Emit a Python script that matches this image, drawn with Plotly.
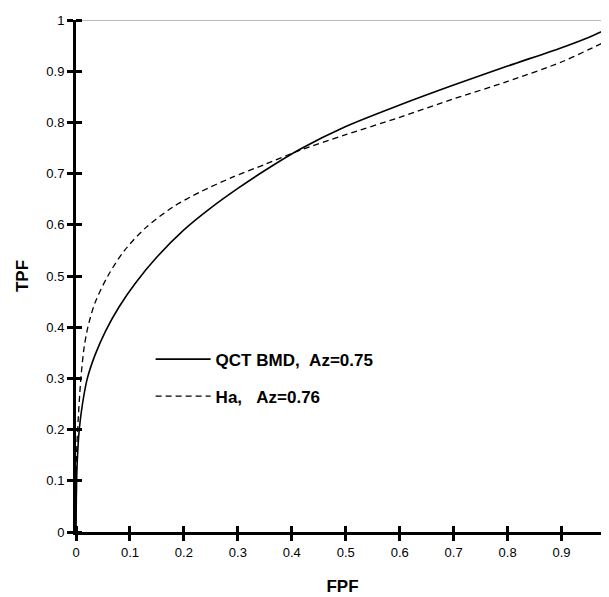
import plotly.graph_objects as go

# ROC curve data
qct_fpf = [0, 0.0005, 0.002, 0.006, 0.012, 0.021, 0.035, 0.055, 0.08, 0.11, 0.15, 0.2,
           0.25, 0.3, 0.35, 0.416, 0.5, 0.6, 0.7, 0.8, 0.9, 0.95, 0.99]
qct_tpf = [0, 0.06, 0.13, 0.2, 0.25, 0.3, 0.345, 0.393, 0.44, 0.486, 0.537, 0.59,
           0.633, 0.671, 0.706, 0.748, 0.792, 0.834, 0.873, 0.91, 0.946, 0.966, 0.985]

ha_fpf = [0, 0.0005, 0.001, 0.003, 0.009, 0.015, 0.022, 0.035, 0.059, 0.09, 0.13, 0.18, 0.23,
          0.288, 0.35, 0.416, 0.5, 0.6, 0.7, 0.8, 0.9, 0.95, 0.99]
ha_tpf = [0, 0.1, 0.15, 0.2, 0.3, 0.36, 0.4, 0.447, 0.5, 0.55, 0.595, 0.635, 0.664,
          0.692, 0.718, 0.746, 0.776, 0.81, 0.846, 0.88, 0.918, 0.942, 0.962]

qct_name = "QCT BMD,\u00a0\u00a0Az=0.75"
ha_name = "Ha,\u00a0\u00a0\u00a0Az=0.76"

x_ticks = [0, 0.1, 0.2, 0.3, 0.4, 0.5, 0.6, 0.7, 0.8, 0.9]
x_labels = ["0", "0.1", "0.2", "0.3", "0.4", "0.5", "0.6", "0.7", "0.8", "0.9"]
y_ticks = [0, 0.1, 0.2, 0.3, 0.4, 0.5, 0.6, 0.7, 0.8, 0.9, 1.0]
y_labels = ["0", "0.1", "0.2", "0.3", "0.4", "0.5", "0.6", "0.7", "0.8", "0.9", "1"]

X_RANGE = [0, 0.988]
Y_RANGE = [0, 1]

tick_font = dict(family="Liberation Sans, Arial, sans-serif", size=13, color="black")
bold_font = "Liberation Sans Narrow, Arial Narrow, Liberation Sans, Arial, sans-serif"

fig = go.Figure()
fig.add_trace(go.Scatter(x=qct_fpf, y=qct_tpf, mode="lines", name=qct_name,
                         line=dict(color="black", width=1.6, shape="spline", smoothing=0.8),
                         legendgroup="a"))
fig.add_trace(go.Scatter(x=ha_fpf, y=ha_tpf, mode="lines", name=ha_name,
                         line=dict(color="black", width=1.3, dash="6px,4px", shape="spline", smoothing=0.8),
                         legendgroup="b"))

inner_ticks_x = dict(tickmode="array", tickvals=x_ticks, ticks="inside", ticklen=6,
                     tickwidth=2.5, tickcolor="black")
inner_ticks_y = dict(tickmode="array", tickvals=y_ticks, ticks="inside", ticklen=6,
                     tickwidth=2.5, tickcolor="black")

axis_common = dict(showline=True, linewidth=3, linecolor="black", ticks="outside",
                   ticklen=6, tickwidth=2.5, tickcolor="black", showgrid=False,
                   zeroline=False, tickfont=tick_font, fixedrange=True, automargin=False)

# the page body has an 8px margin, so the figure is sized to fit the window
fig.update_layout(
    width=601, height=589,
    margin=dict(l=67.5, r=0, t=12, b=65),
    paper_bgcolor="white", plot_bgcolor="white",
    showlegend=True,
    legend=dict(x=0.14, y=0.372, xanchor="left", yanchor="top",
                bgcolor="rgba(0,0,0,0)", traceorder="grouped", tracegroupgap=12,
                itemwidth=55,
                font=dict(family=bold_font, size=17, color="black", weight="bold")),
    xaxis=dict(range=X_RANGE, tickvals=x_ticks, ticktext=x_labels, minor=inner_ticks_x,
               title=dict(text="<b>FPF</b>", font=dict(family=bold_font, size=17, color="black"), standoff=22),
               **axis_common),
    yaxis=dict(range=Y_RANGE, tickvals=y_ticks, ticktext=y_labels, minor=inner_ticks_y,
               title=dict(text="<b>TPF</b>", font=dict(family=bold_font, size=17, color="black"), standoff=14),
               **axis_common),
    shapes=[dict(type="line", xref="x domain", yref="y", x0=0, x1=1, y0=Y_RANGE[1], y1=Y_RANGE[1],
                 line=dict(color="#777777", width=1), layer="below")],
)

fig.write_html("out.html")
